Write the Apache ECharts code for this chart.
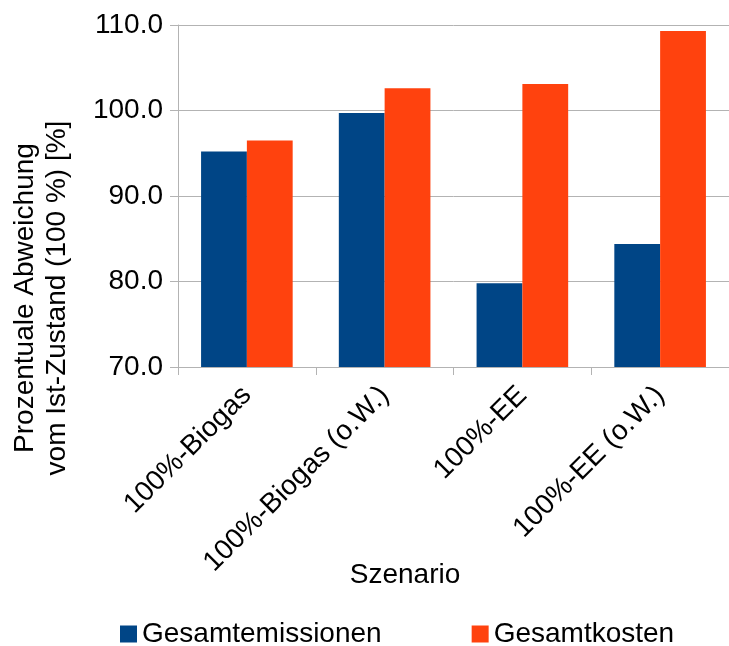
<!DOCTYPE html>
<html>
<head>
<meta charset="utf-8">
<script src="https://cdn.jsdelivr.net/npm/echarts@6/dist/echarts.min.js"></script>
<style>html,body{margin:0;padding:0;background:#fff}#c{width:729px;height:646px}</style>
</head>
<body>
<div id="c"></div>
<script>
const categories = ['100%-Biogas', '100%-Biogas (o.W.)', '100%-EE', '100%-EE (o.W.)'];
const emissions = [95.2, 99.7, 79.8, 84.4];
const costs = [96.5, 102.6, 103.1, 109.3];
const seriesNames = ['Gesamtemissionen', 'Gesamtkosten'];
const yTicks = [70, 80, 90, 100, 110];
const xTitle = 'Szenario';
const yTitle = 'Prozentuale Abweichung\nvom Ist-Zustand (100 %) [%]';

const FONT = '"Liberation Sans", Arial, sans-serif';
const GREY = '#b3b3b3';
const FS = 28;
const chart = echarts.init(document.getElementById('c'), null, {renderer: 'canvas'});
chart.setOption({
  animation: false,
  textStyle: {fontFamily: FONT, color: '#000'},
  title: {
    text: xTitle, left: 405, top: 561, textAlign: 'center', padding: 0,
    textStyle: {fontFamily: FONT, fontSize: FS, fontWeight: 'normal', color: '#000'}
  },
  graphic: [{
    type: 'text', x: 41, y: 298, rotation: Math.PI / 2,
    style: {text: yTitle, fontFamily: FONT, fontSize: FS, lineHeight: 32, fill: '#000', align: 'center', verticalAlign: 'middle'}
  }],
  legend: {
    data: seriesNames, left: 120, top: 620, padding: 0, icon: 'rect', itemWidth: 17, itemHeight: 17, itemGap: 90,
    textStyle: {fontFamily: FONT, fontSize: FS, color: '#000'}
  },
  grid: {left: 178, top: 25, width: 560, height: 342},
  xAxis: {
    type: 'category', data: categories,
    axisLine: {lineStyle: {color: GREY, width: 1}},
    axisTick: {show: true, length: 8, lineStyle: {color: GREY}},
    axisLabel: {rotate: 45, fontSize: FS, fontFamily: FONT, color: '#000', margin: 24, interval: 0}
  },
  yAxis: {
    type: 'value', min: yTicks[0], max: yTicks[yTicks.length - 1], interval: 10,
    axisLine: {show: true, lineStyle: {color: GREY, width: 1}},
    axisTick: {show: true, length: 8, lineStyle: {color: GREY}},
    splitLine: {lineStyle: {color: GREY, width: 1}},
    axisLabel: {fontSize: FS, fontFamily: FONT, color: '#000', margin: 15, formatter: v => v.toFixed(1)}
  },
  series: [
    {name: seriesNames[0], type: 'bar', data: emissions, barGap: '0%', barCategoryGap: '33.5%', itemStyle: {color: '#004586'}},
    {name: seriesNames[1], type: 'bar', data: costs, barGap: '0%', barCategoryGap: '33.5%', itemStyle: {color: '#ff420e'}}
  ]
});
</script>
</body>
</html>
